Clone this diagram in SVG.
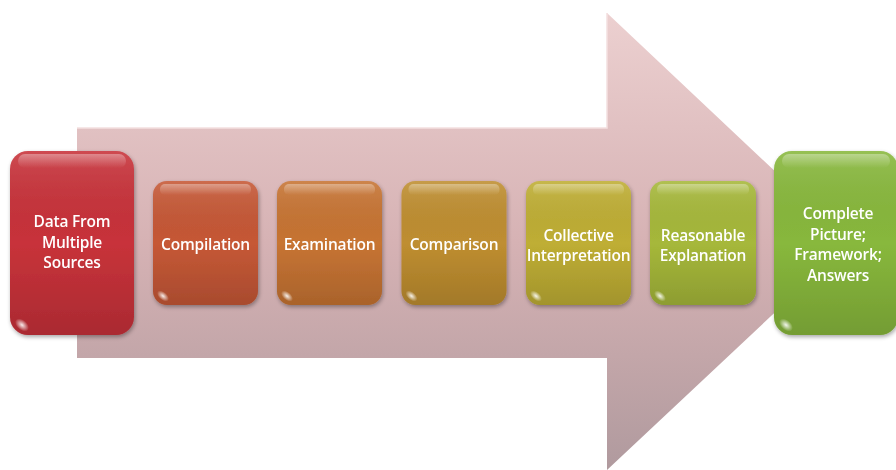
<svg xmlns="http://www.w3.org/2000/svg" width="896" height="470" viewBox="0 0 896 470">
<defs>
<linearGradient id="arrowG" x1="0" y1="0" x2="0" y2="1">
<stop offset="0" stop-color="#ecd0d0"/>
<stop offset="0.5" stop-color="#d6b2b4"/>
<stop offset="1" stop-color="#b09a9e"/>
</linearGradient>
<linearGradient id="shade" x1="0" y1="0" x2="0" y2="1">
<stop offset="0" stop-color="#ffffff" stop-opacity="0.12"/>
<stop offset="0.5" stop-color="#000000" stop-opacity="0"/>
<stop offset="1" stop-color="#000000" stop-opacity="0.15"/>
</linearGradient>
<linearGradient id="gloss" x1="0" y1="0" x2="0" y2="1">
<stop offset="0" stop-color="#ffffff" stop-opacity="0.35"/>
<stop offset="1" stop-color="#ffffff" stop-opacity="0"/>
</linearGradient>
<radialGradient id="corner" cx="0.5" cy="0.5" r="0.5">
<stop offset="0" stop-color="#ffffff" stop-opacity="0.9"/>
<stop offset="1" stop-color="#ffffff" stop-opacity="0"/>
</radialGradient>
<filter id="sh" x="-10%" y="-10%" width="125%" height="125%">
<feGaussianBlur in="SourceAlpha" stdDeviation="2"/>
<feOffset dx="1" dy="2"/>
<feComponentTransfer><feFuncA type="linear" slope="0.35"/></feComponentTransfer>
<feMerge><feMergeNode/><feMergeNode in="SourceGraphic"/></feMerge>
</filter>
</defs>
<style>
.lbl{font-family:"Open Sans","Liberation Sans",sans-serif;font-weight:600;font-size:15.5px;fill:#ffffff;text-anchor:middle;letter-spacing:-0.2px}
.sh{fill:url(#shade)}
.gl{fill:url(#gloss)}
</style>
<g id="arrow">
<path d="M77,128 L607,128 L607,13 L850,242 L607,470 L607,358 L77,358 Z" fill="url(#arrowG)"/>
<path d="M77,128 L607,128 L607,13" fill="none" stroke="#f4e0e0" stroke-width="1.5"/>
</g>
<g id="connectors"></g>
<g id="n1" filter="url(#sh)">
<rect x="10" y="151" width="124" height="184" rx="18" fill="#c8323a"/>
<rect x="10" y="151" width="124" height="184" rx="18" class="sh"/>
<rect x="18" y="154" width="108" height="14" rx="7" class="gl"/>
<ellipse cx="22" cy="325" rx="8" ry="5" fill="url(#corner)" transform="rotate(40 22 325)"/>
<text class="lbl"><tspan x="72" y="227">Data From</tspan><tspan x="72" y="247.5">Multiple</tspan><tspan x="72" y="268">Sources</tspan></text>
</g>
<g id="n2" filter="url(#sh)">
<rect x="153" y="181" width="105" height="124" rx="14" fill="#c65836"/>
<rect x="153" y="181" width="105" height="124" rx="14" class="sh"/>
<rect x="160" y="184" width="91" height="11" rx="5" class="gl"/>
<ellipse cx="163" cy="296" rx="7" ry="4" fill="url(#corner)" transform="rotate(40 163 296)"/>
<text class="lbl" x="205.5" y="250">Compilation</text>
</g>
<g id="n3" filter="url(#sh)">
<rect x="277" y="181" width="105" height="124" rx="14" fill="#c77433"/>
<rect x="277" y="181" width="105" height="124" rx="14" class="sh"/>
<rect x="284" y="184" width="91" height="11" rx="5" class="gl"/>
<ellipse cx="287" cy="296" rx="7" ry="4" fill="url(#corner)" transform="rotate(40 287 296)"/>
<text class="lbl" x="329.5" y="250">Examination</text>
</g>
<g id="n4" filter="url(#sh)">
<rect x="401.5" y="181" width="105" height="124" rx="14" fill="#bf8e30"/>
<rect x="401.5" y="181" width="105" height="124" rx="14" class="sh"/>
<rect x="408.5" y="184" width="91" height="11" rx="5" class="gl"/>
<ellipse cx="411.5" cy="296" rx="7" ry="4" fill="url(#corner)" transform="rotate(40 411.5 296)"/>
<text class="lbl" x="454" y="250">Comparison</text>
</g>
<g id="n5" filter="url(#sh)">
<rect x="526" y="181" width="105" height="124" rx="14" fill="#bfae34"/>
<rect x="526" y="181" width="105" height="124" rx="14" class="sh"/>
<rect x="533" y="184" width="91" height="11" rx="5" class="gl"/>
<ellipse cx="536" cy="296" rx="7" ry="4" fill="url(#corner)" transform="rotate(40 536 296)"/>
<text class="lbl"><tspan x="578.5" y="241">Collective</tspan><tspan x="578.5" y="261">Interpretation</tspan></text>
</g>
<g id="n6" filter="url(#sh)">
<rect x="650" y="181" width="106" height="124" rx="14" fill="#a6b83a"/>
<rect x="650" y="181" width="106" height="124" rx="14" class="sh"/>
<rect x="657" y="184" width="92" height="11" rx="5" class="gl"/>
<ellipse cx="660" cy="296" rx="7" ry="4" fill="url(#corner)" transform="rotate(40 660 296)"/>
<text class="lbl"><tspan x="703" y="241">Reasonable</tspan><tspan x="703" y="261">Explanation</tspan></text>
</g>
<g id="n7" filter="url(#sh)">
<rect x="774" y="151" width="124" height="184" rx="18" fill="#88b83c"/>
<rect x="774" y="151" width="124" height="184" rx="18" class="sh"/>
<rect x="782" y="154" width="108" height="14" rx="7" class="gl"/>
<ellipse cx="786" cy="325" rx="8" ry="5" fill="url(#corner)" transform="rotate(40 786 325)"/>
<text class="lbl"><tspan x="838" y="219">Complete</tspan><tspan x="838" y="239.5">Picture;</tspan><tspan x="838" y="260">Framework;</tspan><tspan x="838" y="280.5">Answers</tspan></text>
</g>
</svg>
